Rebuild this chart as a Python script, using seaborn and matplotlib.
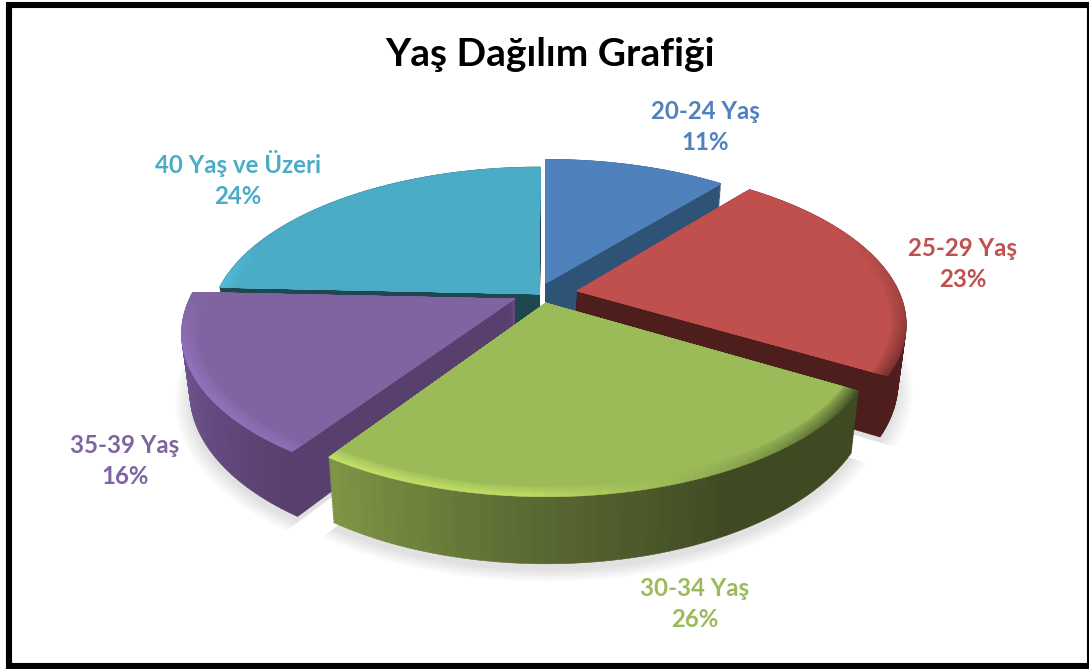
import numpy as np
import matplotlib
matplotlib.use('Agg')
import matplotlib.pyplot as plt
import seaborn as sns
from matplotlib.patches import Rectangle
from matplotlib.transforms import Transform

# veriler
labels = ['20-24 Yaş', '25-29 Yaş', '30-34 Yaş', '35-39 Yaş', '40 Yaş ve Üzeri']
values = [10.9, 22.6, 25.9, 16.3, 24.3]
title = 'Yaş Dağılım Grafiği'

colors = ['#4F81BD', '#C0504D', '#9BBB59', '#8064A2', '#4BACC6']
# dilim kaydirmalari (x, y)
offset_x = [0.003, 0.10, 0.003, -0.095, -0.018]
offset_y = [0.093, 0.04, -0.039, -0.013, 0.02]
wall_colors = [
    ['#2F5377', '#2F5377'],
    ['#5D2422', '#4E1E1D'],
    ['#3F4A22', '#3F4A22', '#5A6A33', '#7E9545'],
    ['#573F6E', '#64497F', '#6F5490', '#6F5490'],
    ['#1E4750', '#1E4750'],
]
rim_colors = [
    ['#4F81BD', '#4F81BD'],
    ['#C0504D', '#C0504D', '#A34341', '#7A302E'],
    ['#45532A', '#8CA850', '#BFDC62', '#C4E06A'],
    ['#8B6FB5', '#9175BC', '#8F72BA', '#8064A2'],
    ['#55BDD8', '#4BACC6', '#4BACC6', '#4BACC6', '#4BACC6', '#4BACC6'],
]
label_pos = [(705, 127), (963, 264), (695, 604), (125, 461), (238, 179)]

# ekran geometrisi
CX, CY = 545, 297
RX, RY = 324, 153
PERSP = 0.1965
TAPER = 0.0004
DEPTH = 57
N_SUB = 50
draw_order = [0, 4, 1, 3, 2]


class Persp(Transform):
    input_dims = 2
    output_dims = 2
    is_separable = False
    has_inverse = False

    def __init__(self, z=0):
        super().__init__()
        self.z = z

    def transform_non_affine(self, xy):
        xy = np.asarray(xy, dtype=float)
        w = 1 + PERSP * xy[:, 1]
        s = 1 - TAPER * self.z
        return np.column_stack([CX + s * RX * xy[:, 0] / w,
                                CY + (self.z - s * RY * xy[:, 1]) / w])


sns.set_theme(style='white')
plt.rcParams['font.family'] = ['Lato', 'DejaVu Sans']

fig, ax = plt.subplots(figsize=(10.89, 6.69), dpi=100)
fig.subplots_adjust(0, 0, 1, 1)

starts = 90 - 3.6 * np.concatenate([[0], np.cumsum(values)[:-1]])


def pie_layer(i, cols, z=0, radius=1.0, alpha=None):
    n = len(cols)
    props = {'linewidth': 0} if alpha is None else {'linewidth': 0, 'alpha': alpha}
    wedges, _ = ax.pie([values[i] / 100 / n] * n, colors=cols, startangle=starts[i],
                       counterclock=False, normalize=False, radius=radius,
                       center=(offset_x[i], offset_y[i]),
                       labeldistance=None, wedgeprops=props)
    tr = Persp(z) + ax.transData
    for w in wedges:
        w.set_transform(tr)
        if alpha is None:
            w.set_edgecolor(w.get_facecolor())
            w.set_linewidth(0.4)


# golge
for r in [1.045, 1.035, 1.025, 1.015, 1.005]:
    for i in draw_order:
        pie_layer(i, ['black'], z=DEPTH + 5, radius=r, alpha=0.022)

for i in draw_order:
    # yan duvarlar
    walls = sns.blend_palette(wall_colors[i], N_SUB)
    for z in np.linspace(DEPTH, 0, 45):
        pie_layer(i, walls, z=z)
    # kenar yumusatma
    rim = sns.blend_palette(rim_colors[i], N_SUB)
    for t in np.linspace(0, 1, 8):
        cols = [sns.blend_palette([c, colors[i]], 9)[int(t * 8)] for c in rim]
        pie_layer(i, cols, radius=1 - 0.045 * t)
    pie_layer(i, [colors[i]], radius=0.955)

ax.set_aspect('auto')
ax.set_xlim(0, 1089)
ax.set_ylim(669, 0)
ax.axis('off')

ax.text(550, 55, title, ha='center', va='center', fontsize=28, fontweight='bold', color='black')
for i, (x, y) in enumerate(label_pos):
    ax.text(x, y, f'{labels[i]}\n{values[i]:.0f}%', ha='center', va='center', fontsize=17.3,
            fontweight='bold', color=colors[i], linespacing=1.47)

# cerceve
ax.add_patch(Rectangle((9, 4.5), 1081, 661.5, fill=False, edgecolor='black', linewidth=4.4, zorder=10))

plt.savefig('out.png', dpi=100)
